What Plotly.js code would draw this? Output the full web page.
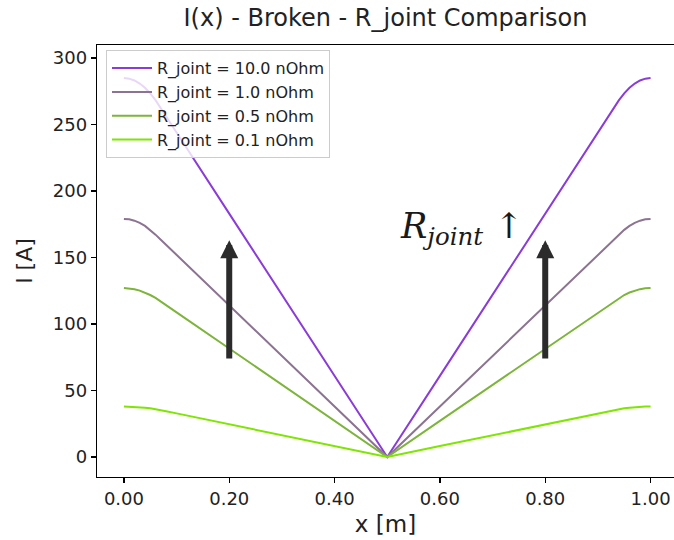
<!DOCTYPE html>
<html>
<head>
<meta charset="utf-8">
<script src="https://cdn.plot.ly/plotly-3.0.1.min.js"></script>
<style>
  html, body { margin: 0; padding: 0; background: #fff; }
  #chart { width: 674px; height: 540px; }
</style>
</head>
<body>
<div id="chart"></div>
<script>
// Position along the conductor [m]
const xPos = [0, 0.01, 0.02, 0.03, 0.04, 0.05, 0.06, 0.07, 0.08, 0.1, 0.2, 0.3, 0.4, 0.5,
              0.6, 0.7, 0.8, 0.9, 0.92, 0.93, 0.94, 0.95, 0.96, 0.97, 0.98, 0.99, 1.0];

// Current I(x) [A] for each joint resistance
const i10 = [285, 284.5, 283.1, 280.8, 277.6, 273.4, 268.3, 262.3, 256.2, 244, 183, 122, 61, 0,
             61, 122, 183, 244, 256.2, 262.3, 268.3, 273.4, 277.6, 280.8, 283.1, 284.5, 285];
const i1  = [179, 178.7, 177.7, 176.1, 173.8, 170.8, 167.2, 163.4, 159.6, 152, 114, 76, 38, 0,
             38, 76, 114, 152, 159.6, 163.4, 167.2, 170.8, 173.8, 176.1, 177.7, 178.7, 179];
const i05 = [127, 126.8, 126.2, 125.1, 123.7, 121.8, 119.6, 117.0, 114.2, 108.8, 81.6, 54.4, 27.2, 0,
             27.2, 54.4, 81.6, 108.8, 114.2, 117.0, 119.6, 121.8, 123.7, 125.1, 126.2, 126.8, 127];
const i01 = [38, 37.9, 37.8, 37.5, 37.1, 36.6, 36.0, 35.2, 34.4, 32.8, 24.6, 16.4, 8.2, 0,
             8.2, 16.4, 24.6, 32.8, 34.4, 35.2, 36.0, 36.6, 37.1, 37.5, 37.8, 37.9, 38];

const seriesNames = ['R_joint = 10.0 nOhm', 'R_joint = 1.0 nOhm', 'R_joint = 0.5 nOhm', 'R_joint = 0.1 nOhm'];
const seriesValues = [i10, i1, i05, i01];
const seriesColors = ['#8a3bd8', '#8c7391', '#7db43a', '#7ee600'];

// Trend arrows: x positions, tail and tip currents
const arrowX = [0.2, 0.8];
const arrowTail = 73;
const arrowTip = 163;

const xTicks = [0, 0.2, 0.4, 0.6, 0.8, 1.0];
const yTicks = [0, 50, 100, 150, 200, 250, 300];

const FONT = 'DejaVu Sans, sans-serif';

const traces = seriesValues.map((vals, k) => ({
  type: 'scatter',
  mode: 'lines',
  x: xPos,
  y: vals,
  name: seriesNames[k],
  line: { color: seriesColors[k], width: 2 }
}));

const annotations = arrowX.map(ax => ({
  x: ax, y: arrowTip, ax: ax, ay: arrowTail,
  xref: 'x', yref: 'y', axref: 'x', ayref: 'y',
  text: '', showarrow: true,
  arrowhead: 2, arrowsize: 0.6, arrowwidth: 6,
  arrowcolor: '#2b2b2b', standoff: 0, startstandoff: 0
}));

annotations.push({
  x: 0.5205, y: 171.5, xref: 'x', yref: 'y',
  xanchor: 'left', yanchor: 'middle',
  text: '<i>R<sub>joint</sub></i> ↑',
  showarrow: false,
  font: { family: 'DejaVu Serif, serif', size: 35, color: '#1a1a1a' }
});

const layout = {
  width: 674,
  height: 540,
  margin: { l: 97, r: 0, t: 45, b: 63 },
  paper_bgcolor: '#ffffff',
  plot_bgcolor: '#ffffff',
  font: { family: FONT, color: '#222222' },
  title: {
    text: 'I(x) - Broken - R_joint Comparison',
    font: { family: FONT, size: 24, color: '#222222' },
    x: 0.5, xanchor: 'center', xref: 'paper',
    y: 0.967, yanchor: 'middle', yref: 'container'
  },
  showlegend: true,
  legend: {
    x: 0.0156, y: 0.988, xanchor: 'left', yanchor: 'top',
    bgcolor: 'rgba(255,255,255,0.8)',
    bordercolor: '#cccccc', borderwidth: 1,
    font: { family: FONT, size: 16, color: '#222222' },
    tracegroupgap: 0,
    itemwidth: 40
  },
  xaxis: {
    range: [-0.0511, 1.0445],
    tickvals: xTicks,
    tickformat: '.2f',
    ticks: 'outside', ticklen: 5, tickwidth: 1.2, tickcolor: '#000',
    tickfont: { family: FONT, size: 18, color: '#222222' },
    showgrid: false, zeroline: false,
    showline: true, linecolor: '#000', linewidth: 1.2, mirror: true,
    title: { text: 'x [m]', font: { family: FONT, size: 23, color: '#222222' }, standoff: 8 }
  },
  yaxis: {
    range: [-15.04, 309.8],
    tickvals: yTicks,
    ticks: 'outside', ticklen: 5, tickwidth: 1.2, tickcolor: '#000',
    tickfont: { family: FONT, size: 18, color: '#222222' },
    showgrid: false, zeroline: false,
    showline: true, linecolor: '#000', linewidth: 1.2, mirror: false,
    title: { text: 'I [A]', font: { family: FONT, size: 22, color: '#222222' }, standoff: 14 }
  },
  annotations: annotations
};

Plotly.newPlot('chart', traces, layout, { displayModeBar: false, staticPlot: true });
</script>
</body>
</html>
